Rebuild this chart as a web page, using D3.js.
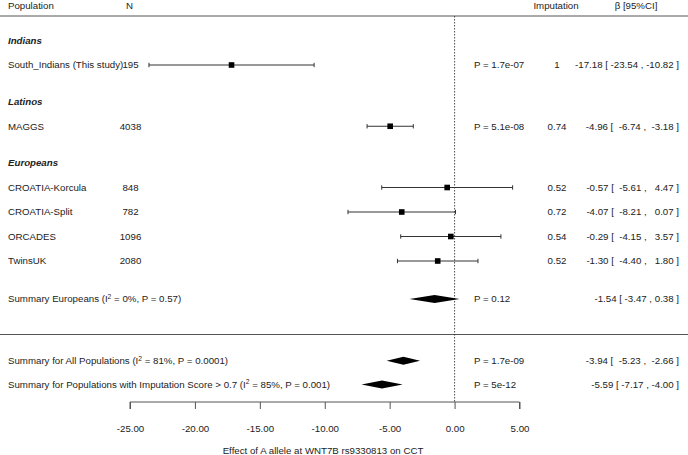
<!DOCTYPE html>
<html><head><meta charset="utf-8">
<script src="https://cdn.jsdelivr.net/npm/d3@7"></script>
<style>
html,body{margin:0;padding:0;background:#fff;}
svg text{font-family:"Liberation Sans",Arial,sans-serif;font-size:9.7px;fill:#222;white-space:pre;}
</style></head>
<body><svg id="c" width="688" height="455"></svg>
<script>
// ---- data ----
const studies = ["South_Indians (This study)", "MAGGS", "CROATIA-Korcula", "CROATIA-Split", "ORCADES", "TwinsUK"];
const groups = ["Indians", "Latinos", "Europeans", "Europeans", "Europeans", "Europeans"];
const sampleN = [195, 4038, 848, 782, 1096, 2080];
const beta = [-17.18, -4.96, -0.57, -4.07, -0.29, -1.30];
const ciLow = [-23.54, -6.74, -5.61, -8.21, -4.15, -4.40];
const ciHigh = [-10.82, -3.18, 4.47, 0.07, 3.57, 1.80];
const pText = ["P = 1.7e-07", "P = 5.1e-08", "", "", "", ""];
const imputation = ["1", "0.74", "0.52", "0.72", "0.54", "0.52"];
const ciLabels = ["-17.18 [ -23.54 , -10.82 ]", "-4.96 [  -6.74 ,  -3.18 ]", "-0.57 [  -5.61 ,   4.47 ]",
                  "-4.07 [  -8.21 ,   0.07 ]", "-0.29 [  -4.15 ,   3.57 ]", "-1.30 [  -4.40 ,   1.80 ]"];

const summaryNames = [["Summary Europeans (I", " = 0%, P = 0.57)"],
                      ["Summary for All Populations (I", " = 81%, P = 0.0001)"],
                      ["Summary for Populations with Imputation Score > 0.7 (I", " = 85%, P = 0.001)"]];
const summaryBeta = [-1.54, -3.94, -5.59];
const summaryLow = [-3.47, -5.23, -7.17];
const summaryHigh = [0.38, -2.66, -4.00];
const summaryP = ["P = 0.12", "P = 1.7e-09", "P = 5e-12"];
const summaryLabels = ["-1.54 [ -3.47 , 0.38 ]", "-3.94 [  -5.23 ,  -2.66 ]", "-5.59 [ -7.17 , -4.00 ]"];

const xTicks = [-25, -20, -15, -10, -5, 0, 5];
const axisTitle = "Effect of A allele at WNT7B rs9330813 on CCT";

// ---- layout ----
const svg = d3.select("#c");
const W = 688;
const x = d3.scaleLinear().domain([-25, 5]).range([130, 519.5]);
const y = d3.scaleLinear().domain([0, 1]).range([40.5, 65]); // row units
const studyRow = [1, 3.5, 6, 7, 8, 9];
const groupRow = {"Indians": 0, "Latinos": 2.5, "Europeans": 5};
const summaryRow = [10.55, 13.07, 14.04];
const sepRow = 12;
const axisY = 402;
const tOff = 3.4;
const colLabel = 8, colN = 130.5, colP = 474, colImp = 557, colCI = 679;

// header
svg.append("text").attr("x", colLabel).attr("y", 9).text("Population");
svg.append("text").attr("x", 129.5).attr("y", 9).attr("text-anchor", "middle").text("N");
svg.append("text").attr("x", 556).attr("y", 9).attr("text-anchor", "middle").text("Imputation");
svg.append("text").attr("x", 636).attr("y", 9).attr("text-anchor", "middle").text("β [95%CI]");

// separators
[16, y(sepRow)].forEach(yy => svg.append("line").attr("x1", 0).attr("x2", W).attr("y1", yy).attr("y2", yy)
  .attr("stroke", "#555").attr("stroke-width", 1));

// zero line
svg.append("line").attr("x1", x(0)).attr("x2", x(0)).attr("y1", 16).attr("y2", axisY)
  .attr("stroke", "#222").attr("stroke-width", 0.8).attr("stroke-dasharray", "1.5,1.5");

// group headers
Object.keys(groupRow).forEach(g => svg.append("text").attr("x", colLabel).attr("y", y(groupRow[g]) + tOff)
  .style("font-weight", "bold").style("font-style", "italic").text(g));

// studies
studies.forEach((s, i) => {
  const yy = y(studyRow[i]);
  svg.append("text").attr("x", colLabel).attr("y", yy + tOff).text(s);
  svg.append("text").attr("x", colN).attr("y", yy + tOff).attr("text-anchor", "middle").text(sampleN[i]);
  const g = svg.append("g").attr("stroke", "#333").attr("stroke-width", 1);
  g.append("line").attr("x1", x(ciLow[i])).attr("x2", x(ciHigh[i])).attr("y1", yy).attr("y2", yy);
  [ciLow[i], ciHigh[i]].forEach(v => g.append("line").attr("x1", x(v)).attr("x2", x(v)).attr("y1", yy - 2.2).attr("y2", yy + 2.2));
  svg.append("rect").attr("x", x(beta[i]) - 2.8).attr("y", yy - 2.8).attr("width", 5.6).attr("height", 5.6).attr("fill", "#000");
  if (pText[i]) svg.append("text").attr("x", colP).attr("y", yy + tOff).text(pText[i]);
  svg.append("text").attr("x", colImp).attr("y", yy + tOff).attr("text-anchor", "middle").text(imputation[i]);
  svg.append("text").attr("x", colCI).attr("y", yy + tOff).attr("text-anchor", "end").text(ciLabels[i]);
});

// summaries
summaryNames.forEach((nm, i) => {
  const yy = y(summaryRow[i]);
  const t = svg.append("text").attr("x", colLabel).attr("y", yy + tOff);
  t.append("tspan").text(nm[0]);
  t.append("tspan").attr("dy", -3.6).style("font-size", "6.7px").text("2");
  t.append("tspan").attr("dy", 3.6).text(nm[1]);
  const h = 4;
  svg.append("polygon").attr("fill", "#000")
    .attr("points", [[x(summaryLow[i]), yy], [x(summaryBeta[i]), yy - h], [x(summaryHigh[i]), yy], [x(summaryBeta[i]), yy + h]].map(p => p.join(",")).join(" "));
  svg.append("text").attr("x", colP).attr("y", yy + tOff).text(summaryP[i]);
  svg.append("text").attr("x", colCI).attr("y", yy + tOff).attr("text-anchor", "end").text(summaryLabels[i]);
});

// axis
const ax = svg.append("g").attr("transform", `translate(0,${axisY})`)
  .call(d3.axisBottom(x).tickValues(xTicks).tickFormat(d => d.toFixed(2)).tickSize(7).tickPadding(16));
ax.select(".domain").attr("stroke", "#555").attr("d", `M${x(-25)},7V0H${x(5)}V7`);
ax.selectAll(".tick line").attr("stroke", "#555");
ax.selectAll(".tick text").style("font-family", "Liberation Sans, Arial, sans-serif").style("font-size", "9.7px").attr("fill", "#222");

svg.append("text").attr("x", 323).attr("y", 453.5).attr("text-anchor", "middle").text(axisTitle);
</script></body></html>
